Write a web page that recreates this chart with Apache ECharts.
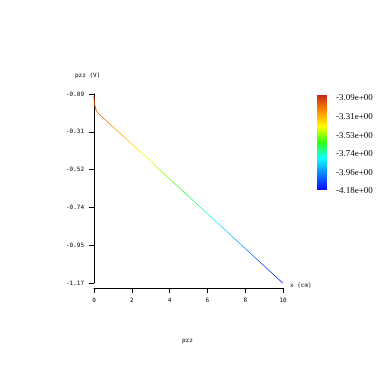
<!DOCTYPE html>
<html><head><meta charset="utf-8">
<script src="https://cdn.jsdelivr.net/npm/echarts@6/dist/echarts.min.js"></script>
<style>html,body{margin:0;padding:0;background:#fff}#c{width:379px;height:379px}</style>
</head><body><div id="c"></div>
<script>
// data
var xValues = [0, 0.04, 0.13, 0.39, 1.0, 1.71, 3.0, 4.0, 5.0, 6.0, 7.0, 8.0, 9.0, 10.0];
var yValues = [-0.103, -0.156, -0.189, -0.217, -0.277, -0.347, -0.475, -0.575, -0.674, -0.774, -0.873, -0.973, -1.072, -1.172];
var yTicks = { min: -1.17, max: -0.09, interval: 0.216 };
var xTicks = { min: 0, max: 10, interval: 2 };
var colorbarRange = { min: -4.18, max: -3.09, interval: 0.218 };
var colorbarColors = ['#0a0aff', '#0a80ff', '#10ffff', '#30ff10', '#ffff00', '#ff8a00', '#c02818'];

var pts = xValues.map(function (x, i) { return [x, yValues[i]]; });
var chart = echarts.init(document.getElementById('c'));
var tiny = { fontFamily: 'DejaVu Sans Mono', fontSize: 6, color: '#000' };
var stops = colorbarColors.map(function (c, i) {
  return { offset: 1 - i / (colorbarColors.length - 1), color: c };
}).reverse();
chart.setOption({
  animation: false,
  grid: [
    { left: 94, right: 96, top: 94, bottom: 96, containLabel: false },
    { left: 317, width: 10, top: 98, height: 93 }
  ],
  xAxis: [
    { type: 'value', min: xTicks.min, max: xTicks.max, interval: xTicks.interval, offset: 5,
      axisLine: { lineStyle: { color: '#000', width: 1 } },
      axisTick: { length: 5, lineStyle: { color: '#000' } },
      axisLabel: Object.assign({ margin: 9 }, tiny),
      splitLine: { show: false } },
    { type: 'value', gridIndex: 1, show: false, min: 0, max: 1 }
  ],
  yAxis: [
    { type: 'value', min: yTicks.min, max: yTicks.max, interval: yTicks.interval, offset: 4,
      axisLine: { show: true, lineStyle: { color: '#000', width: 1 } },
      axisTick: { show: true, length: 5, lineStyle: { color: '#000' } },
      axisLabel: Object.assign({ margin: 6, formatter: function (v) { return v.toFixed(2); } }, tiny),
      splitLine: { show: false } },
    { type: 'value', gridIndex: 1, position: 'right', min: colorbarRange.min, max: colorbarRange.max,
      interval: colorbarRange.interval,
      axisLine: { show: false }, axisTick: { show: false }, splitLine: { show: false },
      axisLabel: { margin: 9, fontFamily: 'Liberation Serif', fontSize: 9, color: '#000',
        formatter: function (v) { return v.toFixed(2) + 'e+00'; } } }
  ],
  visualMap: [{
    type: 'continuous', show: false, dimension: 1, seriesIndex: 0,
    min: yTicks.min, max: yTicks.max,
    inRange: { color: colorbarColors }
  }],
  series: [
    { type: 'line', data: pts, showSymbol: false, symbol: 'none', lineStyle: { width: 1 }, xAxisIndex: 0, yAxisIndex: 0 }
  ],
  graphic: [
    { type: 'rect', left: 317, top: 95, shape: { width: 10, height: 95 },
      style: { fill: new echarts.graphic.LinearGradient(0, 1, 0, 0,
        colorbarColors.map(function (c, i) { return { offset: i / (colorbarColors.length - 1), color: c }; })) } },
    { type: 'text', left: 75, top: 72, style: { text: 'pzz (V)', font: '6px "DejaVu Sans Mono"', fill: '#000' } },
    { type: 'text', left: 290, top: 282, style: { text: 'x (cm)', font: '6px "DejaVu Sans Mono"', fill: '#000' } },
    { type: 'text', left: 182, top: 337, style: { text: 'pzz', font: '6px "DejaVu Sans Mono"', fill: '#000' } }
  ]
});
</script></body></html>
